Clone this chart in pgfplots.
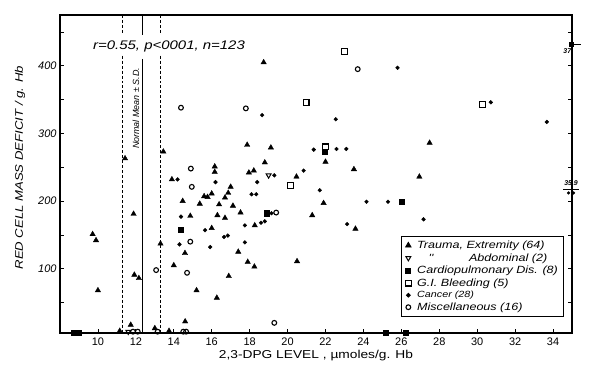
\documentclass[border=0pt]{standalone}
\usepackage{fontspec}
\setmainfont{Liberation Sans}
\newfontfamily\lett[FakeStretch=1.2]{Liberation Sans}
\usepackage{pgfplots}
\pgfplotsset{compat=1.18}
\begin{document}
\begin{tikzpicture}[x=1bp,y=1bp]
\begin{axis}[
  at={(0,0)}, anchor=south west,
  scale only axis, width=512bp, height=318bp,
  xmin=8, xmax=35, ymin=5, ymax=475,
  clip=false,
  axis line style={line width=1.1pt},
  xtick={10,12,...,34}, xtick pos=bottom,
  ytick={100,200,300,400}, minor ytick={50,150,...,450},
  tick align=inside, major tick length=4bp, minor tick length=4bp,
  tick style={black, line width=0.8pt},
  /pgf/number format/assume math mode=true,
  /pgf/number format/1000 sep={},
  xticklabel style={font=\fontsize{11}{12}\selectfont, yshift=-1bp},
  yticklabel style={font=\fontsize{11}{12}\selectfont\itshape},
  xlabel={2,3-DPG LEVEL , µmoles/g. Hb},
  xlabel style={at={(axis description cs:0.5,0)}, anchor=center, yshift=-23bp, font=\lett\fontsize{11.5}{12}\selectfont},
  ylabel={RED CELL MASS DEFICIT / g. Hb},
  ylabel style={at={(axis description cs:-0.078,0.52)}, anchor=center, font=\lett\fontsize{11}{12}\selectfont\itshape},
  legend style={at={(rel axis cs:0.666,0.305)}, anchor=north west, draw=black, line width=0.9pt, fill=white,
    font=\lett\fontsize{10.5}{11}\selectfont\itshape, row sep=-0.5bp, inner xsep=4bp, inner ysep=2.5bp,
    /tikz/every odd column/.append style={column sep=4bp}},
  legend cell align=left,
]
% normal mean +- SD lines
\addplot[densely dashed, line width=0.9pt, forget plot] coordinates {(11.3,475) (11.3,446)};
\addplot[densely dashed, line width=0.9pt, forget plot] coordinates {(11.3,415) (11.3,5)};
\addplot[densely dashed, line width=0.9pt, forget plot] coordinates {(13.3,475) (13.3,446)};
\addplot[densely dashed, line width=0.9pt, forget plot] coordinates {(13.3,415) (13.3,5)};
\addplot[line width=1pt, forget plot] coordinates {(12.33,475) (12.33,446)};
\addplot[line width=1pt, forget plot] coordinates {(12.33,410) (12.33,5)};

% Trauma, extremity
\addplot[only marks, mark=triangle*, mark size=3.1pt, black] coordinates {
(9.72,151) (9.9,142) (10.0,68) (11.43,263) (11.88,181) (11.92,91) (12.16,86) (11.73,17) (11.15,8)
(13.0,12) (13.3,137) (13.45,273) (13.9,232) (17.0,221) (14.47,200) (15.37,196) (15.6,207)
(15.78,206) (16.0,211) (16.39,195) (16.7,205) (16.87,212) (17.12,193) (17.52,183) (14.87,178)
(16.3,179) (16.7,175) (16.0,160) (18.27,164) (14.59,123) (17.4,125) (14.0,105) (15.2,68)
(16.27,57) (16.9,89) (17.9,110) (18.25,103) (14.6,22) (20.5,111) (20.47,236) (21.9,197)
(26.95,236) (21.3,179) (23.58,159) (18.74,405) (17.87,283) (19.12,279) (27.49,286) (18.8,257)
(18.22,245) (22.0,258) (23.5,247) (16.16,251) (16.16,243) (13.75,8) (17.96,242)
};
\addlegendentry{Trauma, Extremity (64)}
% Abdominal
\addplot[only marks, mark=triangle, mark size=2.8pt, mark options={rotate=180, line width=1pt}, black] coordinates {
(19.0,238) (11.6,7)
};
\addlegendentry{\hspace{1.1em}''\hspace{3.4em}Abdominal (2)}
% Cardiopulmonary
\addplot[only marks, mark=square*, mark size=2.6pt, black] coordinates {
(14.38,158) (8.75,6) (9.0,6) (25.16,6) (26.25,6) (21.96,273) (26.0,199) (18.9,182)
};
\addlegendentry{Cardiopulmonary Dis. (8)}
% GI bleeding
\addplot[only marks, mark=square, mark size=2.9pt, mark options={line width=1.2pt}, black] coordinates {
(23.01,421) (20.98,346) (22.0,280) (20.15,223) (30.28,343)
};
\addlegendentry{G.I. Bleeding (5)}
% Cancer
\addplot[only marks, mark=*, mark size=1.9pt, black] coordinates {
(25.8,397) (18.66,327) (22.54,321) (21.38,276) (22.58,277) (23.1,277) (20.85,245) (19.3,238)
(18.4,228) (21.7,216) (24.16,199) (25.3,199) (27.17,173) (23.14,166) (19.15,182) (18.6,168)
(18.8,170) (18.1,210) (18.35,210) (14.2,232) (16.2,228) (14.38,177) (15.65,157) (16.65,147)
(16.85,149) (14.3,136) (15.92,132) (17.75,139) (17.75,164) (30.72,346) (33.67,317)
};
\addlegendentry{\fontsize{9}{10}\selectfont Cancer (28)}
% Miscellaneous
\addplot[only marks, mark=o, mark size=2.4pt, mark options={line width=1.1pt}, black] coordinates {
(14.38,338) (17.8,337) (23.7,395) (14.9,248) (14.95,221) (14.87,140) (14.7,94) (13.07,98)
(19.3,20) (19.4,183) (11.85,7) (12.1,7) (13.15,7) (14.5,7) (14.65,7)
};
\addlegendentry{Miscellaneous (16)}

% off-scale points on right edge
\addplot[only marks, mark=square*, mark size=2.2pt, black, forget plot] coordinates {(34.95,432)};
\addplot[line width=0.8pt, forget plot] coordinates {(34.95,432) (35.45,432)};
\addplot[only marks, mark=*, mark size=1.4pt, black, forget plot] coordinates {(34.82,212) (35.08,212)};
\addplot[line width=0.6pt, forget plot] coordinates {(34.55,218) (35.35,218)};
\node[font=\fontsize{7}{8}\selectfont\bfseries\itshape] at (axis cs:34.75,421) {37};
\node[font=\fontsize{7}{8}\selectfont\bfseries\itshape] at (axis cs:34.95,226) {35.9};

\node[font=\lett\fontsize{12.5}{13}\selectfont\itshape] at (axis cs:13.75,428) {r=0.55, p<0001, n=123};
\node[rotate=90, font=\fontsize{9}{10}\selectfont\itshape] at (axis cs:12.0,337) {Normal Mean ± S.D.};
\end{axis}
\path[use as bounding box] (-60,-40) rectangle (540,333);
\end{tikzpicture}
\end{document}
